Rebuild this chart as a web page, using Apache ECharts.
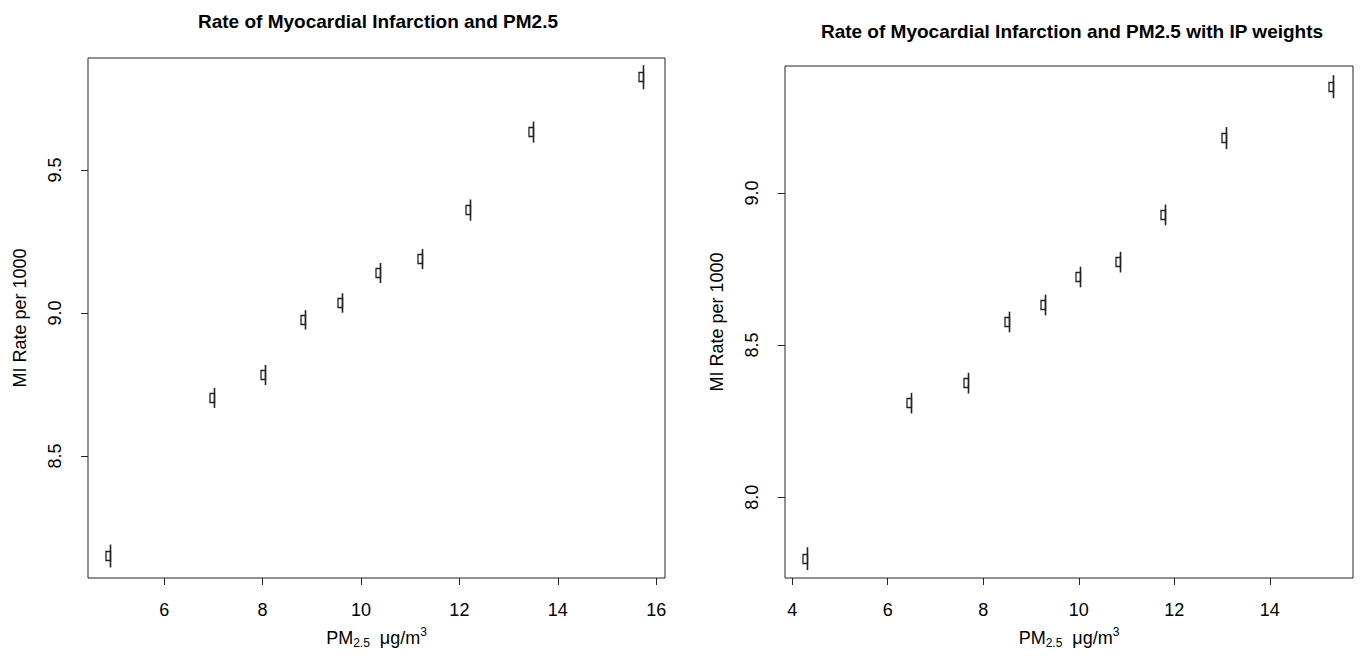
<!DOCTYPE html>
<html>
<head>
<meta charset="utf-8">
<script src="https://cdn.jsdelivr.net/npm/echarts@6/dist/echarts.min.js"></script>
<style>
  html, body { margin: 0; padding: 0; background: #fff; }
  #chart { width: 1362px; height: 660px; }
</style>
</head>
<body>
<div id="chart"></div>
<script>
// left panel: crude rates
var pmLeft = [4.90, 7.02, 8.05, 8.87, 9.62, 10.39, 11.24, 12.22, 13.50, 15.74];
var miLeft = [8.150, 8.703, 8.783, 8.976, 9.035, 9.140, 9.189, 9.360, 9.633, 9.825];
var loLeft = [8.110, 8.668, 8.748, 8.942, 9.001, 9.105, 9.154, 9.323, 9.596, 9.783];
var hiLeft = [8.190, 8.738, 8.818, 9.010, 9.069, 9.175, 9.224, 9.397, 9.670, 9.867];

// right panel: IP weighted rates
var pmRight = [4.31, 6.49, 7.68, 8.54, 9.29, 10.03, 10.86, 11.80, 13.08, 15.32];
var miRight = [7.796, 8.309, 8.375, 8.576, 8.632, 8.724, 8.773, 8.928, 9.181, 9.349];
var loRight = [7.760, 8.275, 8.341, 8.542, 8.598, 8.690, 8.739, 8.894, 9.145, 9.312];
var hiRight = [7.835, 8.343, 8.409, 8.610, 8.666, 8.758, 8.807, 8.962, 9.217, 9.388];

var xTicksLeft = [6, 8, 10, 12, 14, 16];
var yTicksLeft = [8.5, 9.0, 9.5];
var xTicksRight = [4, 6, 8, 10, 12, 14];
var yTicksRight = [8.0, 8.5, 9.0];

var FONT = '"Liberation Sans", Arial, sans-serif';
var INK = '#222';

function rows(x, y, lo, hi) {
  var out = [];
  for (var i = 0; i < x.length; i++) out.push([x[i], y[i], lo[i], hi[i]]);
  return out;
}

// small box to the left of a vertical interval line
function drawMark(params, api) {
  var c = api.coord([api.value(0), api.value(1)]);
  var lo = api.coord([api.value(0), api.value(2)]);
  var hi = api.coord([api.value(0), api.value(3)]);
  var x = Math.round(c[0]) + 0.5;
  return {
    type: 'group',
    children: [
      { type: 'rect', shape: { x: x - 4.5, y: Math.round(c[1]) - 4.5, width: 4.5, height: 9 },
        style: { fill: '#fff', stroke: INK, lineWidth: 1.3 } },
      { type: 'line', shape: { x1: x, y1: lo[1], x2: x, y2: hi[1] },
        style: { stroke: INK, lineWidth: 1.6 } }
    ]
  };
}

function xAxisCfg(idx, min, max, ticks) {
  return {
    type: 'value', gridIndex: idx, min: min, max: max,
    splitLine: { show: false },
    axisLine: { show: false },
    axisTick: { show: true, length: 7, inside: false, customValues: ticks,
      lineStyle: { color: INK, width: 1 } },
    axisLabel: { customValues: ticks, margin: 23, fontSize: 18, color: '#000', fontFamily: FONT },
    name: '{n|PM}{sub|2.5}{n|  μg/m}{sup|3}',
    nameLocation: 'middle', nameGap: 48,
    nameTextStyle: {
      fontFamily: FONT, color: '#000',
      rich: {
        n: { fontSize: 18, fontFamily: FONT, color: '#000' },
        sub: { fontSize: 12, fontFamily: FONT, color: '#000', padding: [11, 0, 0, 0] },
        sup: { fontSize: 12, fontFamily: FONT, color: '#000', padding: [0, 0, 11, 0] }
      }
    }
  };
}

function yAxisCfg(idx, min, max, ticks) {
  return {
    type: 'value', gridIndex: idx, min: min, max: max,
    splitLine: { show: false },
    axisLine: { show: false },
    axisTick: { show: true, length: 7, inside: false, customValues: ticks,
      lineStyle: { color: INK, width: 1 } },
    axisLabel: { customValues: ticks, rotate: 90, margin: 24, fontSize: 18, color: '#000',
      fontFamily: FONT, formatter: function (v) { return v.toFixed(1); } },
    name: 'MI Rate per 1000',
    nameLocation: 'middle', nameGap: 59,
    nameTextStyle: { fontSize: 18, color: '#000', fontFamily: FONT }
  };
}

var chart = echarts.init(document.getElementById('chart'), null, { renderer: 'svg' });

var option = {
  backgroundColor: '#fff',
  animation: false,
  title: [
    { text: 'Rate of Myocardial Infarction and PM2.5', left: 373, top: 7, textAlign: 'center',
      textStyle: { fontSize: 19, fontWeight: 'bold', color: '#000', fontFamily: FONT } },
    { text: 'Rate of Myocardial Infarction and PM2.5 with IP weights', left: 1067, top: 17, textAlign: 'center',
      textStyle: { fontSize: 19, fontWeight: 'bold', color: '#000', fontFamily: FONT } }
  ],
  grid: [
    { left: 88, top: 58, width: 577, height: 520, show: true, borderColor: INK, borderWidth: 1, backgroundColor: 'transparent' },
    { left: 785, top: 66, width: 568, height: 512, show: true, borderColor: INK, borderWidth: 1, backgroundColor: 'transparent' }
  ],
  xAxis: [
    xAxisCfg(0, 4.45, 16.18, xTicksLeft),
    xAxisCfg(1, 3.85, 15.74, xTicksRight)
  ],
  yAxis: [
    yAxisCfg(0, 8.073, 9.892, yTicksLeft),
    yAxisCfg(1, 7.734, 9.418, yTicksRight)
  ],
  series: [
    { type: 'custom', xAxisIndex: 0, yAxisIndex: 0, renderItem: drawMark,
      encode: { x: 0, y: [1, 2, 3] }, data: rows(pmLeft, miLeft, loLeft, hiLeft) },
    { type: 'custom', xAxisIndex: 1, yAxisIndex: 1, renderItem: drawMark,
      encode: { x: 0, y: [1, 2, 3] }, data: rows(pmRight, miRight, loRight, hiRight) }
  ]
};

chart.setOption(option);
</script>
</body>
</html>
